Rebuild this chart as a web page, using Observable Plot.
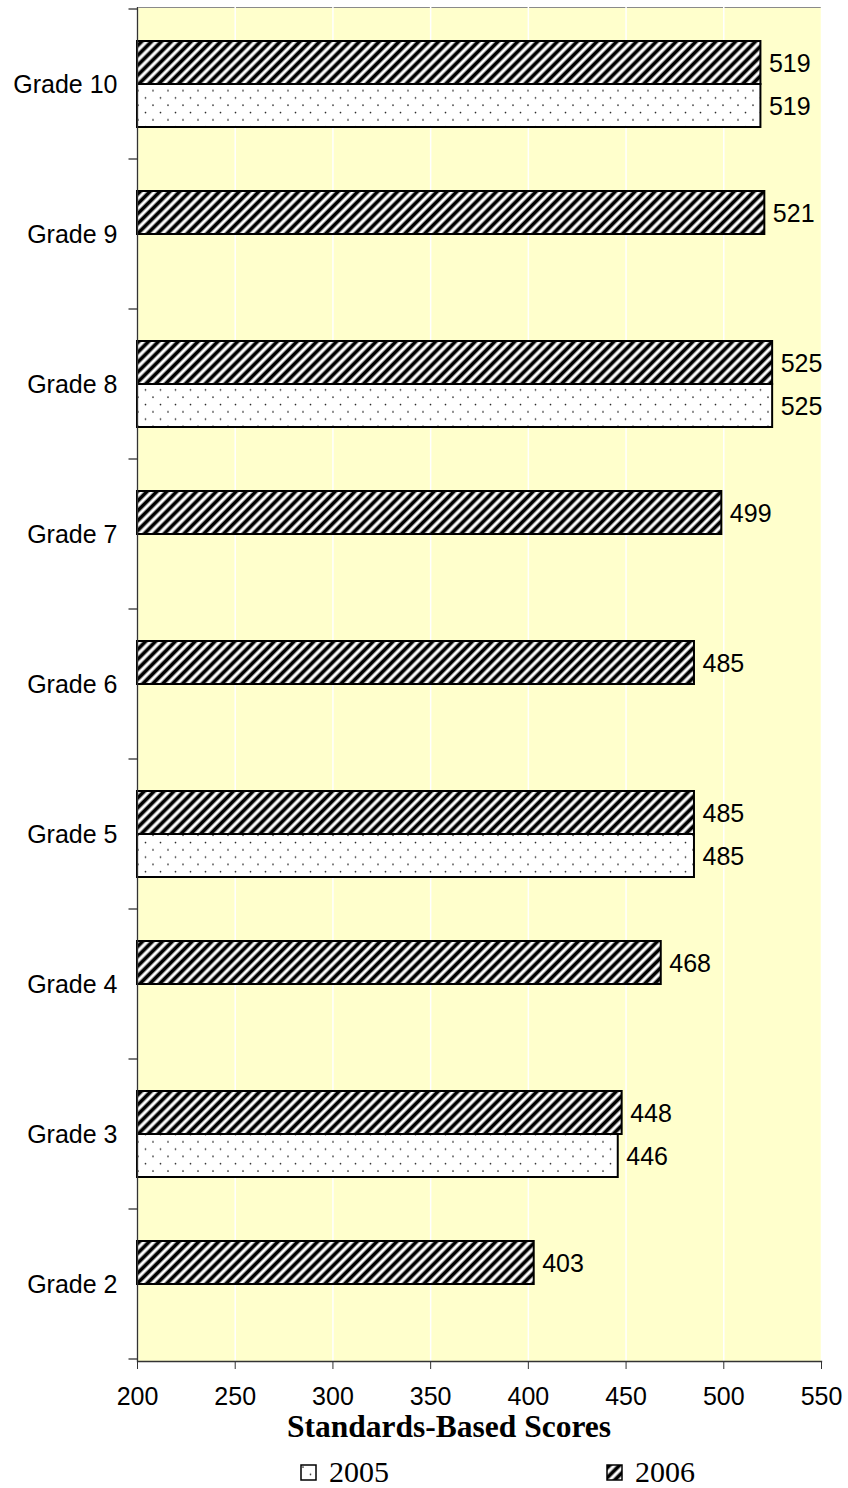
<!DOCTYPE html>
<html><head><meta charset="utf-8">
<script src="https://cdn.jsdelivr.net/npm/d3@7"></script>
<script src="https://cdn.jsdelivr.net/npm/@observablehq/plot@0.6"></script>
<style>
body{margin:0;background:#fff;width:848px;height:1488px;position:relative;font-family:"Liberation Sans",Arial,sans-serif;overflow:hidden}
#chart{position:absolute;left:0;top:0}
#title{position:absolute;left:0;top:1412px;width:848px;padding-left:50px;box-sizing:border-box;text-align:center;font-family:"Liberation Serif","Times New Roman",serif;font-weight:bold;font-size:31.5px;line-height:30px}
.leg{position:absolute;top:1456px;font-family:"Liberation Serif","Times New Roman",serif;font-size:30px;line-height:32px;display:flex;align-items:center}
.leg svg{margin-right:12px}
</style></head><body>
<svg width="0" height="0" style="position:absolute">
<defs>
<pattern id="stripes" patternUnits="userSpaceOnUse" width="7" height="7" patternTransform="rotate(45)">
<rect width="7" height="7" fill="white"/>
<line x1="3.5" y1="-1" x2="3.5" y2="8" stroke="black" stroke-width="3.8"/>
</pattern>
<pattern id="dots" patternUnits="userSpaceOnUse" width="15" height="14.6">
<rect width="15" height="14.6" fill="white"/>
<circle cx="3" cy="3" r="0.85" fill="#222"/>
<circle cx="10.5" cy="10.3" r="0.85" fill="#222"/>
</pattern>
</defs>
</svg>
<div id="chart"></div>
<div id="title">Standards-Based Scores</div>
<div class="leg" style="left:300px"><svg width="17" height="17"><rect x="1" y="1" width="15" height="15" fill="url(#dots)" stroke="black" stroke-width="1.5"/></svg>2005</div>
<div class="leg" style="left:606px"><svg width="17" height="17"><rect x="1" y="1" width="15" height="15" fill="url(#stripes)" stroke="black" stroke-width="1.5"/></svg>2006</div>
<script>
const grades = ["Grade 10","Grade 9","Grade 8","Grade 7","Grade 6","Grade 5","Grade 4","Grade 3","Grade 2"];
const scores2006 = [519, 521, 525, 499, 485, 485, 468, 448, 403];
const scores2005 = [519, null, 525, null, null, 485, null, 446, null];
const xTicks = [200, 250, 300, 350, 400, 450, 500, 550];
const base = 200;

const rows06 = grades.map((g, i) => ({g, v: scores2006[i]})).filter(d => d.v != null);
const rows05 = grades.map((g, i) => ({g, v: scores2005[i]})).filter(d => d.v != null);

const svgns = "http://www.w3.org/2000/svg";
function boundaryTicks(index, scales, values, dimensions, context, next) {
  const g = next(index, scales, values, dimensions, context);
  const y = scales.y;
  if (y && y.bandwidth) {
    const bw = y.bandwidth();
    const ys = grades.map(d => y(d)).concat([y(grades[grades.length - 1]) + bw]);
    for (const yy of ys) {
      const l = document.createElementNS(svgns, "line");
      l.setAttribute("x1", dimensions.marginLeft - 9);
      l.setAttribute("x2", dimensions.marginLeft);
      l.setAttribute("y1", yy);
      l.setAttribute("y2", yy);
      l.setAttribute("stroke", "#333");
      l.setAttribute("stroke-width", "1.3");
      g.appendChild(l);
    }
  }
  return g;
}

const plot = Plot.plot({
  width: 848,
  height: 1412,
  marginLeft: 137,
  marginRight: 27,
  marginTop: 7,
  marginBottom: 51,
  style: {fontFamily: "'Liberation Sans', Arial, sans-serif", fontSize: "25px", color: "black", background: "white", overflow: "visible"},
  x: {domain: [200, 550], ticks: xTicks, label: null},
  y: {domain: grades, padding: 0, label: null},
  marks: [
    Plot.frame({fill: "#FFFFCC", stroke: "#8a8a8a"}),
    Plot.gridX(xTicks, {stroke: "white", strokeOpacity: 1, strokeWidth: 1.5}),
    Plot.barX(rows06, {x1: () => base, x2: "v", y: "g", fill: "url(#stripes)", stroke: "black", strokeWidth: 2, insetTop: 32, insetBottom: 75}),
    Plot.barX(rows05, {x1: () => base, x2: "v", y: "g", fill: "url(#dots)", stroke: "black", strokeWidth: 2, insetTop: 75, insetBottom: 32}),
    Plot.text(rows06, {x: "v", y: "g", text: d => String(d.v), dx: 8, dy: -21, textAnchor: "start", fontSize: 25, fill: "black"}),
    Plot.text(rows05, {x: "v", y: "g", text: d => String(d.v), dx: 8, dy: 22, textAnchor: "start", fontSize: 25, fill: "black"}),
    Plot.axisX({ticks: xTicks, tickSize: 8, tickPadding: 18, label: null, fontSize: 25, stroke: "#333"}),
    Plot.axisY({tickSize: 0, tickPadding: 20, label: null, fontSize: 25}),
    Plot.frame({anchor: "bottom", stroke: "#333", strokeWidth: 1.3}),
    Plot.ruleX([base], {stroke: "#333", strokeWidth: 1.3, render: boundaryTicks})
  ]
});
document.getElementById("chart").appendChild(plot);
</script>
</body></html>
